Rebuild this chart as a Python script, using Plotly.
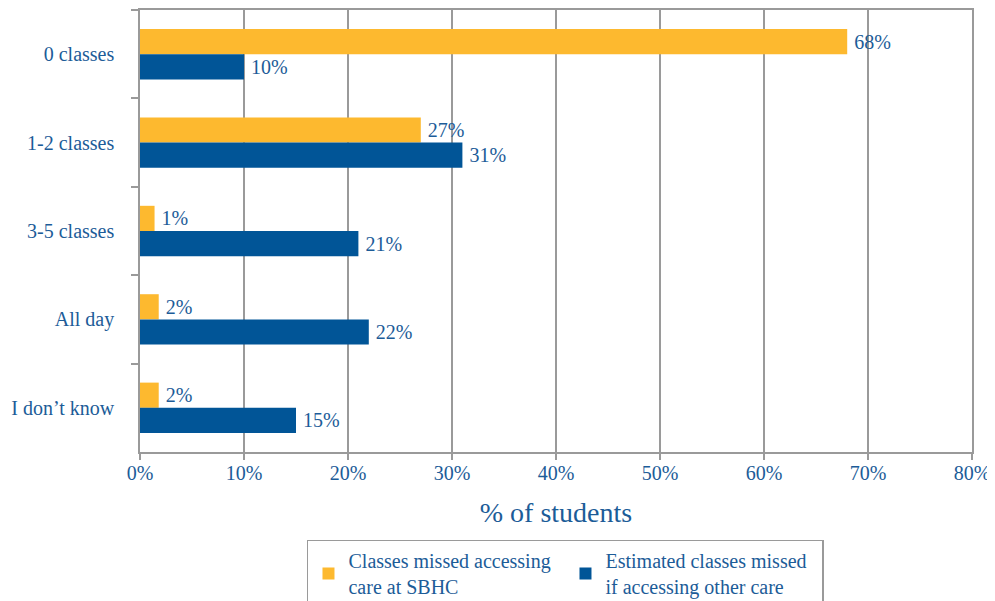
import plotly.graph_objects as go

categories = ["0 classes", "1-2 classes", "3-5 classes", "All day", "I don’t know"]
sbhc = [68, 27, 1.4, 1.8, 1.8]
other = [10, 31, 21, 22, 15]
series_names = ["Classes missed accessing<br>care at SBHC", "Estimated classes missed<br>if accessing other care"]
x_ticks = [0, 10, 20, 30, 40, 50, 60, 70, 80]
x_ticklabels = [f"{v}%" for v in x_ticks]

TXT = "#1c5c98"
FONT = "Liberation Serif"
GRID = "#9a9a9a"

fig = go.Figure()
fig.add_trace(go.Bar(y=categories, x=sbhc, orientation="h", name=series_names[0],
                     marker=dict(color="#fdb92f", line=dict(width=0)),
                     texttemplate="\u2009%{x:.0f}%", textposition="outside",
                     textfont=dict(family=FONT, size=20, color=TXT), cliponaxis=False))
fig.add_trace(go.Bar(y=categories, x=other, orientation="h", name=series_names[1],
                     marker=dict(color="#015597", line=dict(width=0)),
                     texttemplate="\u2009%{x:.0f}%", textposition="outside",
                     textfont=dict(family=FONT, size=20, color=TXT), cliponaxis=False))

fig.update_layout(
    width=987, height=593,
    margin=dict(l=132, r=23, t=2, b=149, autoexpand=False),
    barmode="group", bargap=0.43, bargroupgap=0,
    paper_bgcolor="white", plot_bgcolor="white",
    font=dict(family=FONT, color=TXT, size=19),
    showlegend=True,
    legend=dict(orientation="h", x=0.2007, y=-0.198, xanchor="left", yanchor="top",
                bordercolor=GRID, borderwidth=1.5, entrywidth=212,
                font=dict(family=FONT, size=20, color=TXT),
                itemwidth=30, traceorder="normal"),
    xaxis=dict(range=[0, 80], tickvals=x_ticks, ticktext=x_ticklabels,
               showgrid=True, gridcolor=GRID, gridwidth=1.5,
               showline=True, linecolor=GRID, linewidth=1.5, mirror=True,
               ticks="outside", ticklen=6, tickcolor=GRID, tickwidth=1.5,
               ticklabelstandoff=-4,
               tickfont=dict(family=FONT, size=20, color=TXT),
               title=dict(text="% of students", font=dict(family=FONT, size=28, color=TXT), standoff=20),
               zeroline=False, fixedrange=True, automargin=False),
    yaxis=dict(autorange="reversed", tickson="boundaries",
               showline=True, linecolor=GRID, linewidth=1.5, mirror=True,
               ticks="outside", ticklen=7, tickcolor=GRID, tickwidth=1.5,
               showgrid=False, ticklabelstandoff=20, automargin=False,
               tickfont=dict(family=FONT, size=20, color=TXT), fixedrange=True),
)

fig.write_html("out.html")
